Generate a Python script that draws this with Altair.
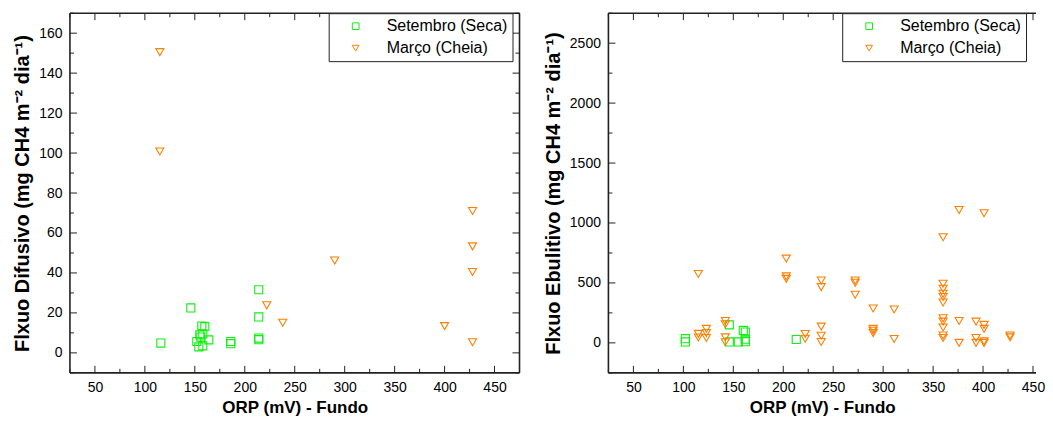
import altair as alt
import pandas as pd

SERIES = ["Setembro (Seca)", "Março (Cheia)"]
COLORS = ["#11ee11", "#ff7f00"]
SHAPES = ["square", "triangle-down"]

# Left panel: diffusive flux
dif_set_x = [116, 146, 152, 154, 155, 156, 157, 158, 158, 160, 164, 186, 186, 214, 214, 214, 214]
dif_set_y = [4.9, 22.5, 5.7, 3.0, 9.0, 7.9, 13.4, 9.5, 3.5, 13.1, 6.5, 5.7, 4.6, 31.6, 18.0, 7.4, 6.6]
dif_mar_x = [115, 115, 222, 238, 290, 400, 428, 428, 428, 428]
dif_mar_y = [150.5, 100.8, 23.8, 15.1, 46.2, 13.4, 71.0, 53.3, 40.5, 5.3]

# Right panel: ebullitive flux
ebu_set_x = [102, 102, 146, 146, 155, 160, 162, 162, 162, 213]
ebu_set_y = [35, 8, 150, 8, 8, 104, 90, 30, 10, 28]
ebu_mar_x = [115, 115, 115, 123, 123, 123, 142, 142, 142, 142, 203, 203, 203, 222, 222,
             238, 238, 238, 238, 238, 272, 272, 272, 290, 290, 290, 290, 311, 311,
             360, 360, 360, 360, 360, 360, 360, 360, 360, 360, 360,
             376, 376, 376, 393, 393, 393, 401, 401, 401, 401, 401, 427, 427]
ebu_mar_y = [575, 75, 45, 117, 82, 41, 183, 156, 46, 5, 703, 555, 534, 74, 35,
             520, 465, 136, 60, 8, 520, 501, 402, 287, 117, 101, 82, 279, 33,
             881, 493, 451, 410, 383, 337, 205, 177, 128, 62, 41,
             1108, 183, 0, 177, 41, 0, 1081, 150, 117, 13, 0, 62, 46]

X_MAJOR = [50, 100, 150, 200, 250, 300, 350, 400, 450]
X_MINOR = [25, 75, 125, 175, 225, 275, 325, 375, 425, 475]
DIF_Y_MAJOR = [0, 20, 40, 60, 80, 100, 120, 140, 160]
DIF_Y_MINOR = [-10, 10, 30, 50, 70, 90, 110, 130, 150, 170]
EBU_Y_MAJOR = [0, 500, 1000, 1500, 2000, 2500]
EBU_Y_MINOR = [-250, 250, 750, 1250, 1750, 2250, 2750]

FONT = "Liberation Sans, Arial"
FRAME = "#222222"
H = 360


def panel(sx, sy, mx, my, ydom, ymaj, ymin, ytitle, W, xmax, leg_x, leg_y, right_side):
    pts = pd.DataFrame({
        "x": sx + mx,
        "y": sy + my,
        "s": [SERIES[0]] * len(sx) + [SERIES[1]] * len(mx),
    })
    xsc = alt.Scale(domain=[25, xmax], nice=False, zero=False)
    ysc = alt.Scale(domain=ydom, nice=False, zero=False)
    xax = alt.Axis(values=X_MAJOR, title="ORP (mV) - Fundo", format="d")
    yax = alt.Axis(values=ymaj, title=ytitle, format="d")
    leg = alt.Legend(title=None, orient="none", legendX=leg_x, legendY=leg_y,
                     strokeColor=FRAME, fillColor="white", padding=5, rowPadding=6,
                     symbolOffset=14, labelOffset=23, symbolSize=45, symbolStrokeWidth=1,
                     labelFont=FONT, labelFontSize=16, labelColor="black",
                     labelLimit=400, cornerRadius=0)
    points = alt.Chart(pts).mark_point(filled=False, size=65, strokeWidth=1.1, opacity=1).encode(
        x=alt.X("x:Q", scale=xsc, axis=xax),
        y=alt.Y("y:Q", scale=ysc, axis=yax),
        color=alt.Color("s:N", scale=alt.Scale(domain=SERIES, range=COLORS), legend=leg),
        shape=alt.Shape("s:N", scale=alt.Scale(domain=SERIES, range=SHAPES), legend=leg),
    )
    xmaj = pd.DataFrame({"x": [v for v in X_MAJOR if v <= xmax]})
    xmin = pd.DataFrame({"x": [v for v in X_MINOR if v <= xmax]})
    ymj = pd.DataFrame({"y": ymaj})
    ymn = pd.DataFrame({"y": ymin})
    layers = []
    for d, L in ((xmaj, 7), (xmin, 4)):
        layers.append(alt.Chart(d).mark_rule(color=FRAME, strokeWidth=1).encode(
            x=alt.X("x:Q", scale=xsc, axis=xax), y=alt.value(H), y2=alt.value(H - L)))
        layers.append(alt.Chart(d).mark_rule(color=FRAME, strokeWidth=1).encode(
            x=alt.X("x:Q", scale=xsc, axis=xax), y=alt.value(0), y2=alt.value(L)))
    for d, L in ((ymj, 7), (ymn, 4)):
        layers.append(alt.Chart(d).mark_rule(color=FRAME, strokeWidth=1).encode(
            y=alt.Y("y:Q", scale=ysc, axis=yax), x=alt.value(0), x2=alt.value(L)))
        if right_side:
            layers.append(alt.Chart(d).mark_rule(color=FRAME, strokeWidth=1).encode(
                y=alt.Y("y:Q", scale=ysc, axis=yax), x=alt.value(W), x2=alt.value(W - L)))
    one = pd.DataFrame({"a": [0]})
    frame = [
        alt.Chart(one).mark_rule(color=FRAME, strokeWidth=1.6).encode(
            x=alt.value(0), x2=alt.value(W), y=alt.value(0)),
        alt.Chart(one).mark_rule(color=FRAME, strokeWidth=1.6).encode(
            x=alt.value(0), x2=alt.value(W), y=alt.value(H)),
        alt.Chart(one).mark_rule(color=FRAME, strokeWidth=1.6).encode(
            x=alt.value(0), y=alt.value(0), y2=alt.value(H)),
    ]
    if right_side:
        frame.append(alt.Chart(one).mark_rule(color=FRAME, strokeWidth=1.6).encode(
            x=alt.value(W), y=alt.value(0), y2=alt.value(H)))
    return alt.layer(points, *layers, *frame).properties(width=W, height=H)


left = panel(dif_set_x, dif_set_y, dif_mar_x, dif_mar_y, [-10, 170], DIF_Y_MAJOR, DIF_Y_MINOR,
             "Flxuo Difusivo (mg CH4  m⁻² dia⁻¹)", 450, 475, 259, 0, True)
right = panel(ebu_set_x, ebu_set_y, ebu_mar_x, ebu_mar_y, [-250, 2750], EBU_Y_MAJOR, EBU_Y_MINOR,
              "Flxuo Ebulitivo (mg CH4  m⁻² dia⁻¹)", 428, 453, 234, 0, False)

chart = alt.hconcat(left, right, spacing=22).resolve_scale(
    color="independent", shape="independent", x="independent", y="independent"
).resolve_legend(color="independent", shape="independent").properties(
    padding={"left": 4, "top": 4, "right": 0, "bottom": 0}
).configure_view(stroke=None).configure_axis(
    grid=False, ticks=False, domain=False,
    labelFont=FONT, labelFontSize=14, labelColor="black", labelPadding=8,
    titleFont=FONT, titleFontWeight="bold", titleColor="black",
).configure_axisY(titlePadding=6, titleFontSize=20).configure_axisX(titlePadding=5, titleFontSize=17)

chart.save("out.html", embed_options={"renderer": "svg", "actions": False})
